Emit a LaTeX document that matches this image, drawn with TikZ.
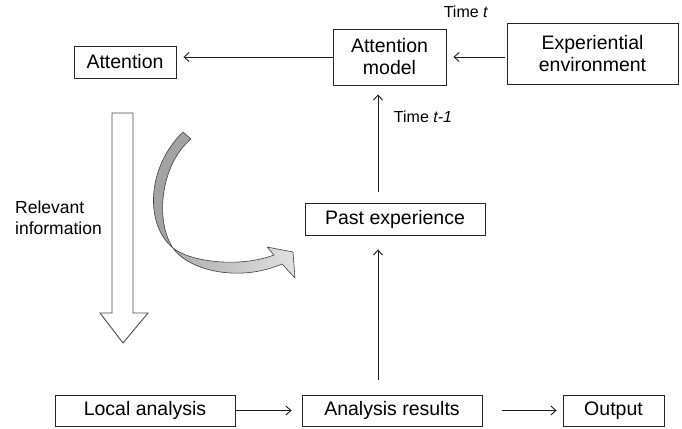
\documentclass[tikz,border=0pt]{standalone}
\usepackage{fontspec}
\setmainfont{Liberation Sans}
\usetikzlibrary{arrows.meta}
\begin{document}
\begin{tikzpicture}[x=1pt,y=-1pt,
  box/.style={draw=black!85, line width=0.9pt, inner sep=0pt, align=center, font=\fontsize{19.5}{22}\selectfont},
  conn/.style={draw=black!90, line width=0.9pt, -{Straight Barb[length=5pt,width=9pt,line width=0.9pt]}},
  lbl/.style={inner sep=0pt, font=\fontsize{16}{19}\selectfont},
  side/.style={inner sep=0pt, align=left, font=\fontsize{17.5}{21}\selectfont},
  hollow/.style={draw=black!70, line width=0.9pt, fill=white},
  ribbon/.style={draw=black!75, line width=0.6pt},
]
\useasboundingbox (0,0) rectangle (682,428);

% boxes
\node[box, minimum width=102pt, minimum height=32pt] (att) at (125,62) {Attention};
\node[box, minimum width=113pt, minimum height=56pt] (am) at (389.5,57) {Attention\\model};
\node[box, minimum width=171pt, minimum height=61pt] (ee) at (592.5,53.5) {Experiential\\environment};
\node[box, minimum width=180pt, minimum height=32pt] (pe) at (395,219) {Past experience};
\node[box, minimum width=180pt, minimum height=31pt] (la) at (145,410.5) {Local analysis};
\node[box, minimum width=180pt, minimum height=31pt] (ar) at (392,410.5) {Analysis results};
\node[box, minimum width=101pt, minimum height=31pt] (out) at (613.5,410.5) {Output};

% labels
\node[lbl] (tt) at (466,12) {Time \textit{t}};
\node[lbl] (tt1) at (423,117) {Time \textit{t-1}};
\node[side, anchor=west] (ri) at (15,218) {Relevant\\information};

% connectors
\coordinate (vx) at (378,0);
\draw[conn, shorten >=7pt] (am.west) -- (am.west -| att.east);
\draw[conn, shorten <=2pt, shorten >=7pt] (am.east -| ee.west) -- (am.east);
\draw[conn, shorten <=11pt, shorten >=9pt] (pe.north -| vx) -- (am.south -| vx);
\draw[conn, shorten <=15pt, shorten >=14pt] (ar.north -| vx) -- (pe.south -| vx);
\draw[conn, shorten >=10pt] (la.east) -- (ar.west);
\draw[conn, shorten <=20pt, shorten >=6pt] (ar.east) -- (out.west);

% hollow block arrow
\draw[hollow] (112,113) -- (133,113) -- (133,313) -- (148,313) -- (123,343) -- (100,313) -- (112,313) -- cycle;

% curved ribbon arrow
\fill[black!36] (183,132) .. controls (146,168) and (145,225) .. (173,248)
   .. controls (155,222) and (160,165) .. (191,139) -- cycle;
\draw[ribbon] (183,132) .. controls (146,168) and (145,225) .. (173,248)
   .. controls (155,222) and (160,165) .. (191,139) -- cycle;
\shade[left color=black!32, right color=black!12]
   (173,248) .. controls (188,270) and (238,283) .. (282,264)
   -- (295,278) -- (293,252) -- (267,247) -- (274,255)
   .. controls (240,268) and (190,262) .. (173,248) -- cycle;
\draw[ribbon, line join=round]
   (173,248) .. controls (188,270) and (238,283) .. (282,264)
   -- (295,278) -- (293,252) -- (267,247) -- (274,255)
   .. controls (240,268) and (190,262) .. (173,248) -- cycle;
\end{tikzpicture}
\end{document}
